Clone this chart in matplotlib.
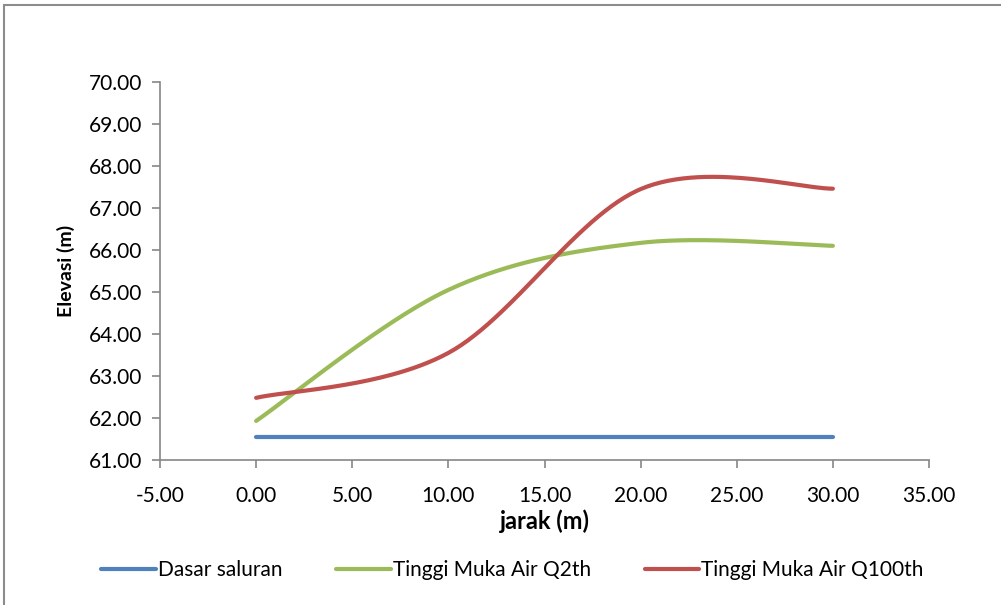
import numpy as np
import matplotlib.pyplot as plt
from matplotlib.patches import Rectangle

# data (points at 0, 10, 20, 30 m)
jarak = [0.0, 10.0, 20.0, 30.0]
dasar_saluran = [61.55, 61.55, 61.55, 61.55]
muka_air_q2 = [61.93, 65.05, 66.17, 66.10]
muka_air_q100 = [62.48, 63.55, 67.45, 67.46]

series_names = ["Dasar saluran", "Tinggi Muka Air Q2th", "Tinggi Muka Air Q100th"]
colors = ["#4F81BD", "#9BBB59", "#C0504D"]


def smooth(xs, ys, n=60):
    # Excel-style smoothed line: cubic bezier with catmull-rom control points
    xs = np.asarray(xs, float)
    ys = np.asarray(ys, float)
    px, py = [], []
    for i in range(len(xs) - 1):
        x0, y0 = (xs[i - 1], ys[i - 1]) if i > 0 else (xs[i], ys[i])
        x3, y3 = (xs[i + 2], ys[i + 2]) if i + 2 < len(xs) else (xs[i + 1], ys[i + 1])
        x1, y1 = xs[i], ys[i]
        x2, y2 = xs[i + 1], ys[i + 1]
        c1 = (x1 + (x2 - x0) / 6, y1 + (y2 - y0) / 6)
        c2 = (x2 - (x3 - x1) / 6, y2 - (y3 - y1) / 6)
        t = np.linspace(0, 1, n)
        bx = (1 - t) ** 3 * x1 + 3 * (1 - t) ** 2 * t * c1[0] + 3 * (1 - t) * t ** 2 * c2[0] + t ** 3 * x2
        by = (1 - t) ** 3 * y1 + 3 * (1 - t) ** 2 * t * c1[1] + 3 * (1 - t) * t ** 2 * c2[1] + t ** 3 * y2
        px.extend(bx)
        py.extend(by)
    return np.array(px), np.array(py)


plt.rcParams['font.family'] = ['Lato', 'DejaVu Sans']

fig = plt.figure(figsize=(10.01, 6.05), dpi=100)
fig.patches.append(Rectangle((4 / 1001, -0.05), 1.1, 1 - 5 / 605 + 0.05, transform=fig.transFigure,
                             fill=False, edgecolor="#8c8c8c", linewidth=1.5))

ax = fig.add_axes([160 / 1001, 1 - 460 / 605, (929 - 160) / 1001, (460 - 82) / 605])

for ys, name, c in zip([dasar_saluran, muka_air_q2, muka_air_q100], series_names, colors):
    sx, sy = smooth(jarak, ys)
    ax.plot(sx, sy, color=c, linewidth=3, solid_capstyle='round', label=name)

ax.set_xlim(-5, 35)
ax.set_ylim(61, 70)
ax.set_xticks(np.arange(-5, 36, 5))
ax.set_yticks(np.arange(61, 71, 1))
ax.xaxis.set_major_formatter(lambda v, p: f"{v:.2f}")
ax.yaxis.set_major_formatter(lambda v, p: f"{v:.2f}")

for s in ["top", "right"]:
    ax.spines[s].set_visible(False)
for s in ["left", "bottom"]:
    ax.spines[s].set_color("#868686")
    ax.spines[s].set_linewidth(1.2)
ax.tick_params(axis="both", colors="#868686", labelcolor="black", labelsize=15, length=6, width=1.2)
ax.tick_params(axis="x", pad=13)
ax.tick_params(axis="y", pad=7)

ax.set_xlabel("jarak (m)", fontsize=17, fontweight="bold", labelpad=2)
ax.set_ylabel("Elevasi (m)", fontsize=14, fontweight="bold", labelpad=10)

fig.legend(loc="center", bbox_to_anchor=(0.512, 1 - 570 / 605), ncol=3, frameon=False,
           fontsize=15, handlelength=2.6, handletextpad=0.1, columnspacing=2.6)

fig.savefig("out.png", dpi=100)
